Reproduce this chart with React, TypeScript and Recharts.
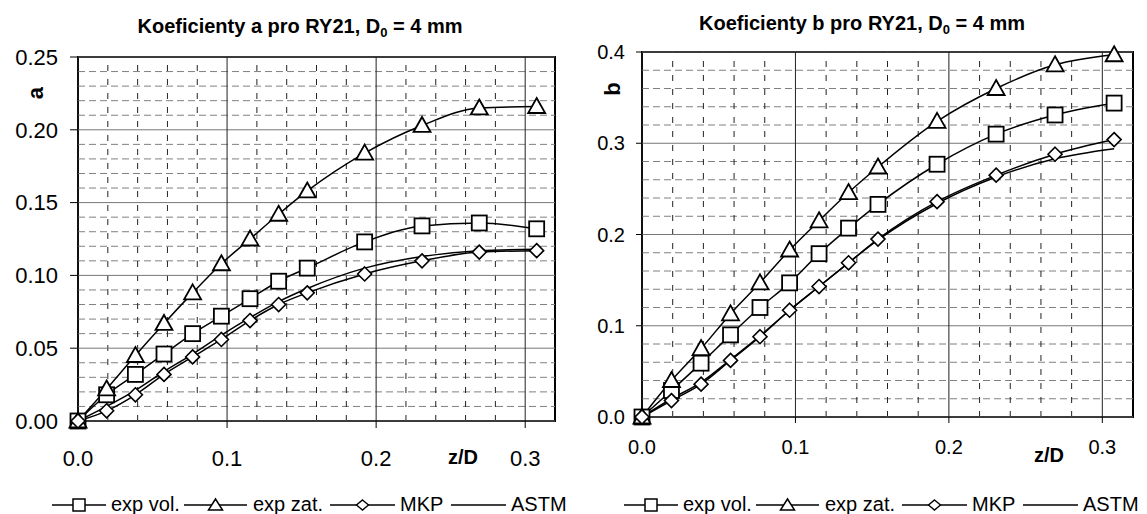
import React from 'react';
import { LineChart, Line, XAxis, YAxis, ReferenceLine, ReferenceArea } from 'recharts';

// ---- data ----
const zD = [0, 0.0192, 0.0385, 0.0577, 0.0769, 0.0962, 0.1154, 0.1346, 0.1538, 0.1923, 0.2308, 0.2692, 0.3077];

const expVolA = [0, 0.018, 0.032, 0.046, 0.060, 0.072, 0.084, 0.096, 0.105, 0.123, 0.134, 0.136, 0.132];
const expZatA = [0, 0.022, 0.045, 0.067, 0.088, 0.108, 0.125, 0.142, 0.158, 0.184, 0.203, 0.215, 0.216];
const mkpA = [0, 0.007, 0.018, 0.032, 0.044, 0.056, 0.069, 0.080, 0.088, 0.101, 0.110, 0.116, 0.117];
const astmA = [0, 0.010, 0.021, 0.034, 0.046, 0.059, 0.071, 0.082, 0.091, 0.105, 0.113, 0.117, 0.118];

const expVolB = [0, 0.029, 0.059, 0.090, 0.120, 0.147, 0.179, 0.207, 0.233, 0.277, 0.310, 0.331, 0.344];
const expZatB = [0, 0.040, 0.075, 0.113, 0.147, 0.183, 0.215, 0.246, 0.274, 0.324, 0.360, 0.386, 0.397];
const mkpB = [0, 0.018, 0.036, 0.062, 0.088, 0.117, 0.143, 0.169, 0.195, 0.236, 0.265, 0.288, 0.304];
const astmB = [0, 0.020, 0.038, 0.063, 0.089, 0.117, 0.143, 0.169, 0.194, 0.234, 0.263, 0.283, 0.294];

const xTicks = [0, 0.1, 0.2, 0.3];
const xMinor = [0.02, 0.04, 0.06, 0.08, 0.12, 0.14, 0.16, 0.18, 0.22, 0.24, 0.26, 0.28];
const yTicksA = [0, 0.05, 0.1, 0.15, 0.2, 0.25];
const yMinorA = [0.01, 0.02, 0.03, 0.04, 0.06, 0.07, 0.08, 0.09, 0.11, 0.12, 0.13, 0.14, 0.16, 0.17, 0.18, 0.19, 0.21, 0.22, 0.23, 0.24];
const yTicksB = [0, 0.1, 0.2, 0.3, 0.4];
const yMinorB = [0.02, 0.04, 0.06, 0.08, 0.12, 0.14, 0.16, 0.18, 0.22, 0.24, 0.26, 0.28, 0.32, 0.34, 0.36, 0.38];

const legendLabels = ['exp vol.', 'exp zat.', 'MKP', 'ASTM'];
const titleA = 'Koeficienty a pro RY21, D';
const titleB = 'Koeficienty b pro RY21, D';

const FONT = '"Liberation Sans", Arial, sans-serif';

// ---- markers ----
const SquareDot = (p: any) => {
  const { cx, cy, index } = p;
  if (cx == null || cy == null) return null;
  return <rect key={`sq${index}`} x={cx - 7.5} y={cy - 7.5} width={15} height={15} fill="#fff" stroke="#000" strokeWidth={1.8} />;
};
const TriDot = (p: any) => {
  const { cx, cy, index } = p;
  if (cx == null || cy == null) return null;
  return <polygon key={`tr${index}`} points={`${cx},${cy - 8.5} ${cx + 8.5},${cy + 6.5} ${cx - 8.5},${cy + 6.5}`} fill="#fff" stroke="#000" strokeWidth={1.8} />;
};
const DiaDot = (p: any) => {
  const { cx, cy, index } = p;
  if (cx == null || cy == null) return null;
  return <polygon key={`di${index}`} points={`${cx},${cy - 7} ${cx + 7},${cy} ${cx},${cy + 7} ${cx - 7},${cy}`} fill="#fff" stroke="#000" strokeWidth={1.6} />;
};

const buildRows = (v: number[], z: number[], m: number[], a: number[]) =>
  zD.map((x, i) => ({ x, expVol: v[i], expZat: z[i], mkp: m[i], astm: a[i] }));

const rowsA = buildRows(expVolA, expZatA, mkpA, astmA);
const rowsB = buildRows(expVolB, expZatB, mkpB, astmB);

type ChartProps = {
  rows: any[];
  left: number;
  width: number;
  margin: { top: number; right: number; bottom: number; left: number };
  yWidth: number;
  yMax: number;
  yTicks: number[];
  yMinor: number[];
  yDigits: number;
  fontSize: number;
  ySize: number;
  yMargin: number;
  xSize: number;
  xMargin: number;
};

const Chart = (c: ChartProps) => (
  <div style={{ position: 'absolute', left: c.left, top: 0 }}>
    <LineChart width={c.width} height={514} data={c.rows} margin={c.margin}>
      <XAxis
        dataKey="x"
        type="number"
        domain={[0, 0.32]}
        ticks={xTicks}
        interval={0}
        height={60}
        tickFormatter={(v: number) => v.toFixed(1)}
        tick={{ fill: '#000', fontSize: c.fontSize, fontFamily: FONT }}
        tickLine={{ stroke: '#000' }}
        tickSize={c.xSize}
        tickMargin={c.xMargin}
        axisLine={false}
      />
      <YAxis
        type="number"
        domain={[0, c.yMax]}
        ticks={c.yTicks}
        interval={0}
        width={c.yWidth}
        tickFormatter={(v: number) => v.toFixed(c.yDigits)}
        tick={{ fill: '#000', fontSize: c.fontSize, fontFamily: FONT }}
        tickLine={{ stroke: '#000' }}
        tickSize={c.ySize}
        tickMargin={c.yMargin}
        axisLine={false}
      />
      {c.yMinor.map((v) => (
        <ReferenceLine key={`hy${v}`} y={v} stroke="#808080" strokeWidth={1} strokeDasharray="7 4" />
      ))}
      {xMinor.map((v) => (
        <ReferenceLine key={`vx${v}`} x={v} stroke="#222" strokeWidth={1} strokeDasharray="6 8" />
      ))}
      {c.yTicks.map((v) => (
        <ReferenceLine key={`hm${v}`} y={v} stroke="#777" strokeWidth={1} />
      ))}
      {xTicks.map((v) => (
        <ReferenceLine key={`vm${v}`} x={v} stroke="#222" strokeWidth={1} />
      ))}
      <ReferenceArea x1={0} x2={0.32} y1={0} y2={c.yMax} fill="none" fillOpacity={0} stroke="#000" strokeWidth={2} />
      <Line type="monotone" dataKey="expVol" stroke="#000" strokeWidth={1.5} dot={SquareDot} activeDot={false} isAnimationActive={false} />
      <Line type="monotone" dataKey="expZat" stroke="#000" strokeWidth={1.5} dot={TriDot} activeDot={false} isAnimationActive={false} />
      <Line type="monotone" dataKey="mkp" stroke="#000" strokeWidth={1.5} dot={DiaDot} activeDot={false} isAnimationActive={false} />
      <Line type="monotone" dataKey="astm" stroke="#000" strokeWidth={1.5} dot={false} activeDot={false} isAnimationActive={false} />
    </LineChart>
  </div>
);

const LegendIcon = ({ kind, w }: { kind: number; w: number }) => {
  const cx = w / 2;
  const cy = 9;
  return (
    <svg width={w} height={18} style={{ display: 'block' }}>
      <line x1={0} y1={cy} x2={w} y2={cy} stroke="#000" strokeWidth={1.5} />
      {kind === 0 && <rect x={cx - 6} y={cy - 6} width={12} height={12} fill="#fff" stroke="#000" strokeWidth={1.5} />}
      {kind === 1 && <polygon points={`${cx},${cy - 6} ${cx + 7},${cy + 5} ${cx - 7},${cy + 5}`} fill="#fff" stroke="#000" strokeWidth={1.5} />}
      {kind === 2 && <polygon points={`${cx},${cy - 5} ${cx + 6},${cy} ${cx},${cy + 5} ${cx - 6},${cy}`} fill="#fff" stroke="#000" strokeWidth={1.4} />}
    </svg>
  );
};

const legendSym = [
  [52, 106],
  [184, 247],
  [330, 395],
  [451, 506],
];
const legendText = [111, 253, 400, 511];

const Legend = ({ dx }: { dx: number }) => (
  <>
    {legendLabels.map((lab, i) => (
      <React.Fragment key={lab}>
        <div style={{ position: 'absolute', left: legendSym[i][0] + dx, top: 496 }}>
          <LegendIcon kind={i} w={legendSym[i][1] - legendSym[i][0]} />
        </div>
        <div style={{ position: 'absolute', left: legendText[i] + dx, top: 494, fontSize: 20, lineHeight: '20px', fontFamily: FONT, color: '#000', whiteSpace: 'nowrap' }}>
          {lab}
        </div>
      </React.Fragment>
    ))}
  </>
);

const Title = ({ text, cx, top }: { text: string; cx: number; top: number }) => (
  <div style={{ position: 'absolute', left: cx - 250, width: 500, top, textAlign: 'center', fontFamily: FONT, fontWeight: 'bold', fontSize: 20, lineHeight: '20px', color: '#000', whiteSpace: 'nowrap' }}>
    {text}
    <sub style={{ fontSize: 13, verticalAlign: '-4px' }}>0</sub> = 4 mm
  </div>
);

const Label = ({ text, cx, cy, rotate, size }: { text: string; cx: number; cy: number; rotate?: boolean; size: number }) => (
  <div style={{ position: 'absolute', left: cx - 40, top: cy - 15, width: 80, height: 30, display: 'flex', alignItems: 'center', justifyContent: 'center', fontFamily: FONT, fontWeight: 'bold', fontSize: size, color: '#000', transform: rotate ? 'rotate(-90deg)' : undefined }}>
    {text}
  </div>
);

export default function App() {
  return (
    <div style={{ position: 'absolute', left: 0, top: 0, width: 1147, height: 514, background: '#fff', overflow: 'hidden' }}>
      <Chart
        rows={rowsA}
        left={0}
        width={580}
        margin={{ top: 57, right: 25, bottom: 33, left: 0 }}
        yWidth={78}
        yMax={0.25}
        yTicks={yTicksA}
        yMinor={yMinorA}
        yDigits={2}
        fontSize={22}
        ySize={8}
        yMargin={12}
        xSize={7}
        xMargin={22}
      />
      <Chart
        rows={rowsB}
        left={570}
        width={577}
        margin={{ top: 52, right: 14, bottom: 37, left: 0 }}
        yWidth={72}
        yMax={0.4}
        yTicks={yTicksB}
        yMinor={yMinorB}
        yDigits={1}
        fontSize={20}
        ySize={6}
        yMargin={11}
        xSize={6}
        xMargin={17}
      />
      <Title text={titleA} cx={300} top={16} />
      <Title text={titleB} cx={862} top={13} />
      <Label text="a" cx={36} cy={93} rotate size={22} />
      <Label text="b" cx={613} cy={89} rotate size={22} />
      <Label text="z/D" cx={463} cy={457} size={20} />
      <Label text="z/D" cx={1049} cy={455} size={20} />
      <Legend dx={0} />
      <Legend dx={572} />
    </div>
  );
}
